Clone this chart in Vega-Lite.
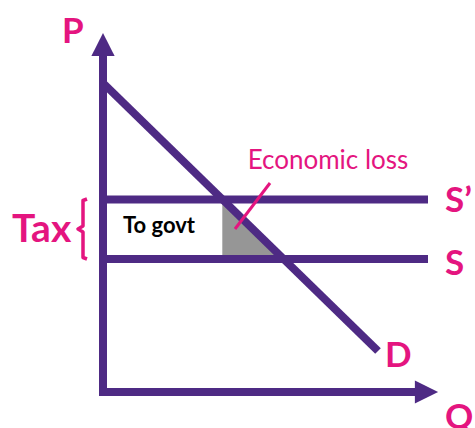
{
  "$schema": "https://vega.github.io/schema/vega-lite/v6.json",
  "width": 475,
  "height": 428,
  "padding": 0,
  "autosize": {"type": "none"},
  "background": "white",
  "config": {"view": {"stroke": null}},
  "datasets": {
    "lines": [
      {"id": "Paxis", "k": 1, "Q": 0, "P": -0.4},
      {"id": "Paxis", "k": 2, "Q": 0, "P": 33.8},
      {"id": "Qaxis", "k": 1, "Q": -0.4, "P": 0},
      {"id": "Qaxis", "k": 2, "Q": 31.4, "P": 0},
      {"id": "D", "k": 1, "Q": 0, "P": 30.9},
      {"id": "D", "k": 2, "Q": 27.5, "P": 4.1},
      {"id": "Sprime", "k": 1, "Q": 0, "P": 19.25},
      {"id": "Sprime", "k": 2, "Q": 32.5, "P": 19.25},
      {"id": "S", "k": 1, "Q": 0, "P": 13.3},
      {"id": "S", "k": 2, "Q": 32.5, "P": 13.3}
    ],
    "loss": [
      {"Q": 11.95, "P": 19.25, "P0": 13.3},
      {"Q": 18.06, "P": 13.3, "P0": 13.3}
    ],
    "upArrow": [{"Q": 0, "P": 34.75}],
    "rightArrow": [{"Q": 32.35, "P": 0}],
    "pointer": [
      {"Q": 16.7, "P": 20.9},
      {"Q": 13.2, "P": 16.3}
    ],
    "brace": [
      {"k": 1, "Q": -1.6, "P": 19.3},
      {"k": 2, "Q": -2.0, "P": 19.15},
      {"k": 3, "Q": -2.0, "P": 16.6},
      {"k": 4, "Q": -2.5, "P": 16.3},
      {"k": 5, "Q": -2.0, "P": 16.0},
      {"k": 6, "Q": -2.0, "P": 13.45},
      {"k": 7, "Q": -1.6, "P": 13.3}
    ],
    "bigLabels": [
      {"label": "P", "Q": -4.1, "P": 34.9},
      {"label": "S’", "Q": 34.2, "P": 18.0},
      {"label": "S", "Q": 34.2, "P": 11.7},
      {"label": "D", "Q": 28.2, "P": 2.5},
      {"label": "Q", "Q": 34.2, "P": -3.7}
    ],
    "taxLabel": [{"label": "Tax", "Q": -9.1, "P": 15.0}],
    "lossLabel": [{"label": "Economic loss", "Q": 22.5, "P": 22.3}],
    "govLabel": [{"label": "To govt", "Q": 5.6, "P": 16.6}]
  },
  "encoding": {
    "x": {"field": "Q", "type": "quantitative", "scale": {"domain": [-10.3, 37.2], "nice": false, "zero": false}, "axis": null},
    "y": {"field": "P", "type": "quantitative", "scale": {"domain": [-3.6, 39.2], "nice": false, "zero": false}, "axis": null}
  },
  "layer": [
    {
      "data": {"name": "loss"},
      "mark": {"type": "area", "color": "#969696", "stroke": "#b5b5b5", "strokeWidth": 1},
      "encoding": {"y2": {"field": "P0"}}
    },
    {
      "data": {"name": "lines"},
      "mark": {"type": "line", "color": "#4E2A84", "strokeWidth": 8, "strokeCap": "butt"},
      "encoding": {"detail": {"field": "id"}, "order": {"field": "k"}}
    },
    {
      "data": {"name": "upArrow"},
      "mark": {"type": "point", "shape": "M0,-1L1,1L-1,1Z", "size": 540, "filled": true, "color": "#4E2A84", "opacity": 1}
    },
    {
      "data": {"name": "rightArrow"},
      "mark": {"type": "point", "shape": "M1,0L-1,1L-1,-1Z", "size": 540, "filled": true, "color": "#4E2A84", "opacity": 1}
    },
    {
      "data": {"name": "pointer"},
      "mark": {"type": "line", "color": "#E4157F", "strokeWidth": 3},
      "encoding": {}
    },
    {
      "data": {"name": "brace"},
      "mark": {"type": "line", "color": "#E4157F", "strokeWidth": 3.5, "strokeJoin": "round"},
      "encoding": {"order": {"field": "k"}}
    },
    {
      "data": {"name": "bigLabels"},
      "mark": {"type": "text", "font": "Lato", "fontWeight": "bold", "fontSize": 35, "color": "#E4157F", "align": "left", "baseline": "alphabetic"},
      "encoding": {"text": {"field": "label"}}
    },
    {
      "data": {"name": "taxLabel"},
      "mark": {"type": "text", "font": "Lato", "fontWeight": "bold", "fontSize": 39, "color": "#E4157F", "align": "left", "baseline": "alphabetic"},
      "encoding": {"text": {"field": "label"}}
    },
    {
      "data": {"name": "lossLabel"},
      "mark": {"type": "text", "font": "Lato", "fontSize": 26, "color": "#E4157F", "align": "center", "baseline": "alphabetic"},
      "encoding": {"text": {"field": "label"}}
    },
    {
      "data": {"name": "govLabel"},
      "mark": {"type": "text", "font": "Lato", "fontWeight": "bold", "fontSize": 22, "color": "#000000", "align": "center", "baseline": "middle"},
      "encoding": {"text": {"field": "label"}}
    }
  ]
}
